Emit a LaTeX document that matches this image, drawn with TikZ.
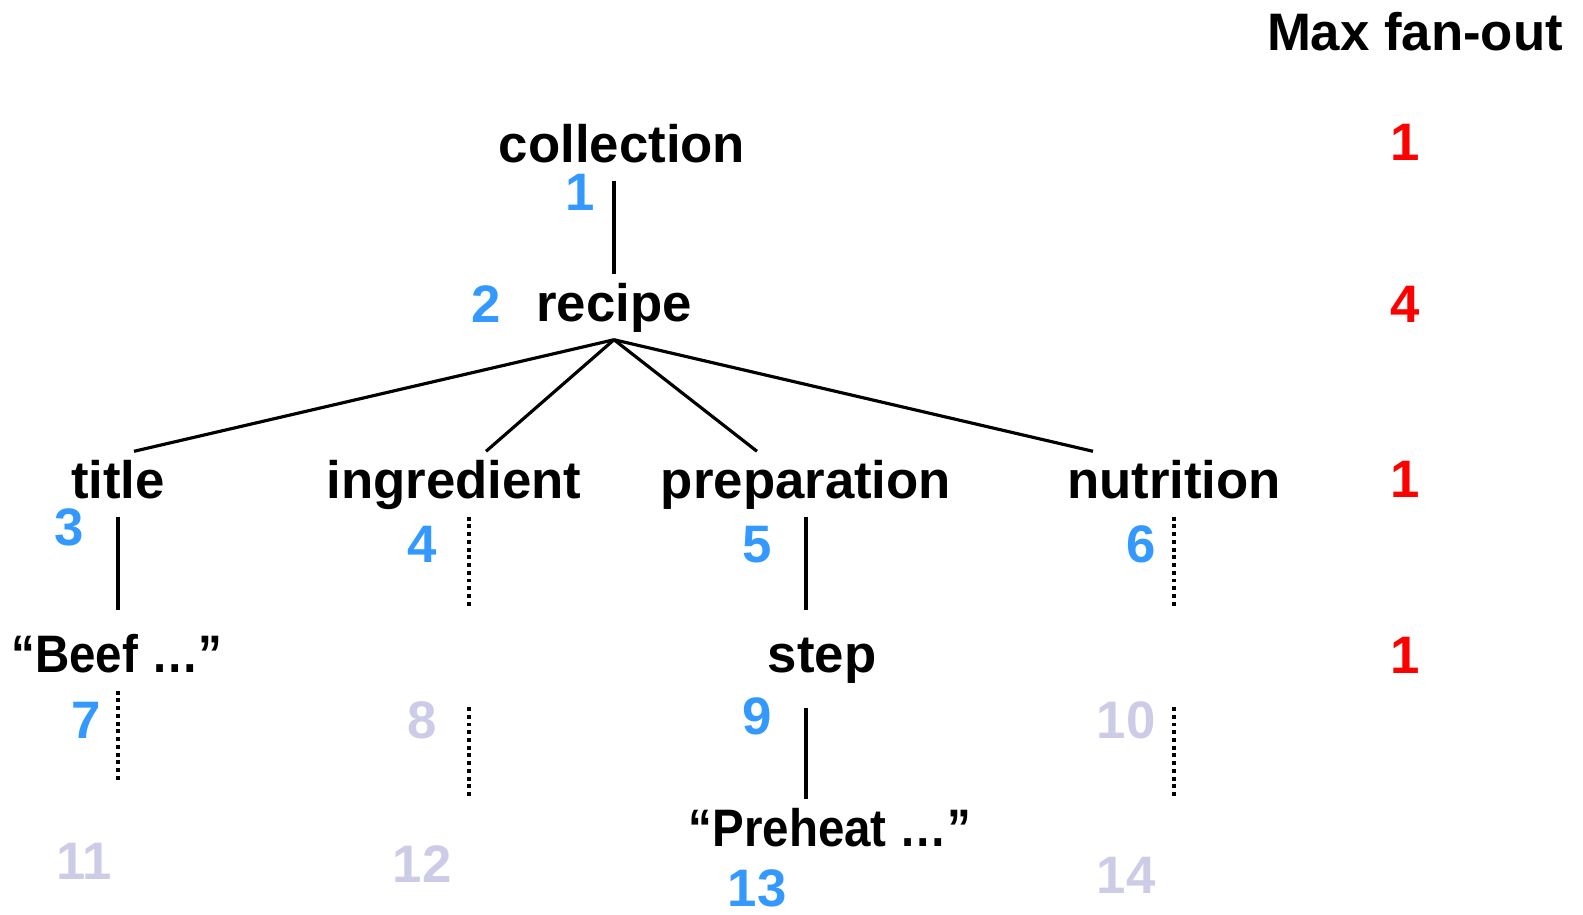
\documentclass[tikz,border=0pt]{standalone}
\usepackage{fontspec}
\setmainfont{Liberation Sans}

\definecolor{numbleu}{RGB}{51,153,255}
\definecolor{numgris}{RGB}{204,204,230}

\tikzset{
  etiq/.style={font=\fontsize{15}{18}\selectfont\bfseries, text height=0.4cm, text depth=0.12cm, inner sep=0.06cm, anchor=base},
  citation/.style={etiq, font=\fontsize{15}{18}\selectfont\bfseries\addfontfeatures{FakeStretch=0.9}},
  num/.style={font=\fontsize{15}{18}\selectfont\bfseries, text=numbleu, inner sep=0pt, anchor=base},
  numvide/.style={num, text=numgris},
  fanout/.style={num, text=red},
  arete/.style={line width=0.9pt},
  pointille/.style={line width=1.2pt, dash pattern=on 1.1pt off 1.1pt},
}

\begin{document}
\begin{tikzpicture}[x=0.01cm,y=-0.01cm]
\useasboundingbox (0,0) rectangle (1583,914);

%% les noeuds de l'arbre
\node[etiq] (collection) at (622,162) {collection};
\node[etiq] (recipe) at (614,321) {recipe};
\node[etiq] (title) at (118,498) {title};
\node[etiq] (ingredient) at (454,498) {ingredient};
\node[etiq] (preparation) at (806,498) {preparation};
\node[etiq] (nutrition) at (1174,498) {nutrition};
\node[citation] (beef) at (117,672) {“Beef …”};
\node[etiq] (step) at (822,672) {step};
\node[citation] (preheat) at (830,846) {“Preheat …”};

%% les aretes pleines
\draw[arete] (recipe.north |- collection.south) -- (recipe.north);
\draw[arete] (recipe.south) -- ([xshift=0.16cm]title.north);
\draw[arete] (recipe.south) -- ([xshift=0.32cm]ingredient.north);
\draw[arete] (recipe.south) -- ([xshift=-0.49cm]preparation.north);
\draw[arete] (recipe.south) -- ([xshift=-0.81cm]nutrition.north);
\draw[arete, shorten >=0.15cm] (title.south) -- (title.south |- beef.north);
\draw[arete, shorten >=0.15cm] (preparation.south) -- (preparation.south |- step.north);
\draw[arete, shorten <=0.17cm] (preparation.south |- step.south) -- (preparation.south |- preheat.north);

%% les pointilles
\coordinate (fin4) at (469,606);
\coordinate (fin6) at (1174,606);
\coordinate (fin7) at (118,783);
\coordinate (deb8) at (469,707);
\coordinate (fin8) at (469,798);
\coordinate (deb10) at (1174,707);
\coordinate (fin10) at (1174,798);
\draw[pointille] (fin4 |- ingredient.south) -- (fin4);
\draw[pointille] (nutrition.south) -- (fin6);
\draw[pointille] (fin7 |- beef.south) -- (fin7);
\draw[pointille] (deb8) -- (fin8);
\draw[pointille] (deb10) -- (fin10);

%% numeros des noeuds
\node[num] (n1) at (580,210) {1};
\node[num] (n2) at (486,322) {2};
\node[num] (n3) at (69,545) {3};
\node[num] (n4) at (422,562) {4};
\node[num] (n5) at (757,562) {5};
\node[num] (n6) at (1141,562) {6};
\node[num] (n7) at (86,738) {7};
\node[numvide] (n8) at (422,738) {8};
\node[num] (n9) at (757,734) {9};
\node[numvide] (n10) at (1126,738) {10};
\node[numvide] (n11) at (84,879) {11};
\node[numvide] (n12) at (422,882) {12};
\node[num] (n13) at (757,906) {13};
\node[numvide] (n14) at (1126,893) {14};

%% colonne de droite
\node[etiq] (maxfan) at (1415,50) {Max fan-out};
\node[fanout] (f1) at (1405,160) {1};
\node[fanout] (f2) at (1405,322) {4};
\node[fanout] (f3) at (1405,497) {1};
\node[fanout] (f4) at (1405,673) {1};

\end{tikzpicture}
\end{document}
